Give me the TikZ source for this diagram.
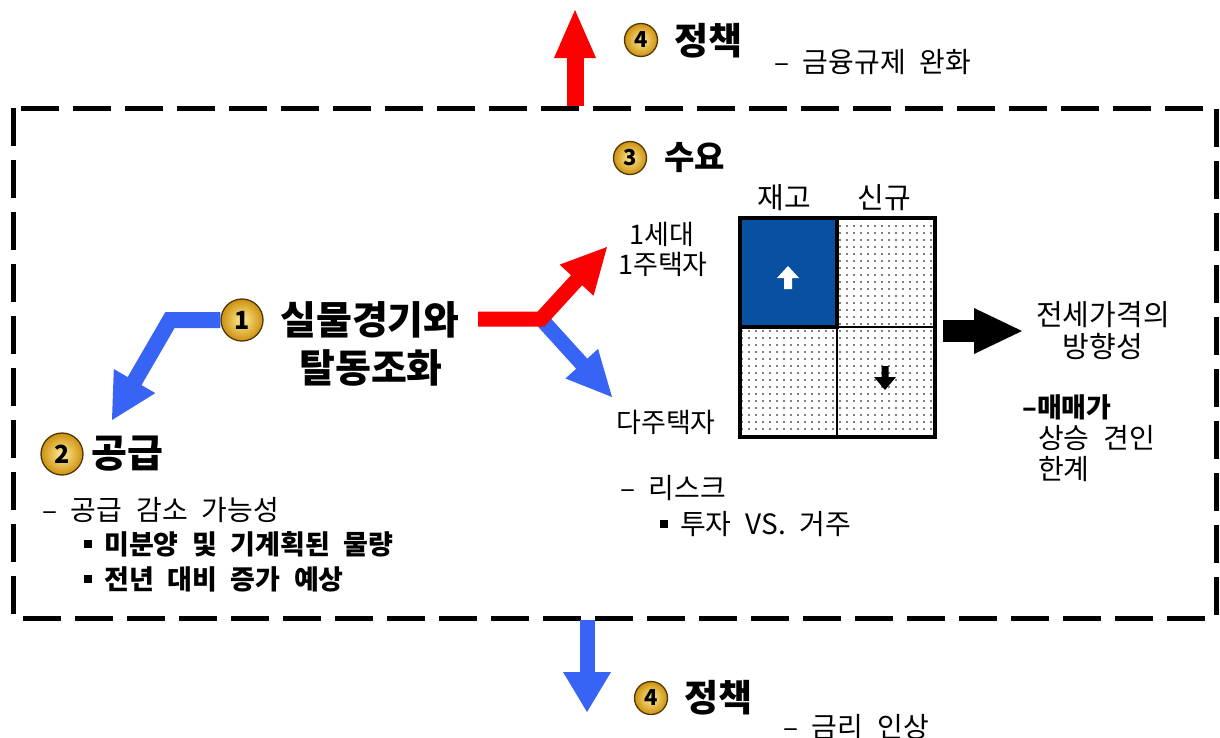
\documentclass[tikz,border=0pt]{standalone}
\usepackage{fontspec}
\newfontfamily\kr{Noto Sans CJK KR}[WordSpace=2.2]
\usetikzlibrary{calc,patterns.meta}
\definecolor{redA}{RGB}{250,0,0}
\definecolor{blueA}{RGB}{55,100,245}
\definecolor{navy}{RGB}{8,80,160}
\definecolor{goldL}{RGB}{255,236,150}
\definecolor{goldA}{RGB}{205,145,15}
\definecolor{goldD}{RGB}{80,55,5}
% block arrow head: colour, from, tip, length, half width
\newcommand{\tipfill}[5]{%
  \path ($(#3)!#4!(#2)$) coordinate (hb);
  \fill[#1] ($(hb)!#5!90:(#3)$) -- (#3) -- ($(hb)!#5!-90:(#3)$) -- cycle;}
\newcommand{\sqbullet}{\raisebox{6pt}{\rule{8pt}{8pt}}\hspace{12pt}}
\begin{document}
\begin{tikzpicture}[x=1pt,y=-1pt,
  num/.style={circle,draw=goldD,line width=1.3pt,inner color=goldL,outer color=goldA,
     inner sep=0pt,font=\kr\bfseries\fontsize{22}{22}\selectfont},
  bigtxt/.style={inner sep=0pt,font=\kr\bfseries\fontsize{39}{42}\selectfont},
  headtxt/.style={inner sep=0pt,anchor=west,font=\kr\bfseries\fontsize{37}{40}\selectfont},
  midtxt/.style={inner sep=0pt,font=\kr\fontsize{27}{30}\selectfont},
  smalltxt/.style={inner sep=0pt,anchor=west,font=\kr\fontsize{28}{32}\selectfont},
  dotcell/.style={pattern={Dots[distance=7pt,radius=0.8pt]},pattern color=black},
  shaft/.style={line width=#1,line join=miter,line cap=butt}
]
\useasboundingbox (0,0) rectangle (1220,737);
\fill[white] (0,0) rectangle (1220,737);

% dashed frame
\draw[line width=5pt,dash pattern=on 38pt off 14pt] (13,108) rectangle (1216,618);

% ---------- policy top ----------
\coordinate (rtS) at (575,106);
\coordinate (rtT) at (575,10);
\tipfill{redA}{rtS}{rtT}{48pt}{21pt}
\draw[shaft=17pt,redA] (rtS) -- ($(hb)!1pt!(rtT)$);
\node[num,minimum size=33pt] (c4a) at (641,40) {4};
\node[headtxt] (p4a) at (674,41) {정책};
\node[smalltxt] (p4aa) at (774,62) {– 금융규제 완화};

% ---------- policy bottom ----------
\coordinate (bbS) at (587,620);
\coordinate (bbT) at (587,712);
\tipfill{blueA}{bbS}{bbT}{40pt}{24pt}
\draw[shaft=15pt,blueA] (bbS) -- ($(hb)!1pt!(bbT)$);
\node[num,minimum size=33pt] (c4b) at (651,698) {4};
\node[headtxt] (p4b) at (684,698) {정책};
\node[smalltxt] (p4bb) at (783,727) {– 금리 인상};

% ---------- 1 ----------
\node[num,minimum size=42pt,font=\kr\bfseries\fontsize{25}{25}\selectfont] (c1) at (242,320) {1};
\node[bigtxt] (t1) at (370,320) {실물경기와};
\node[bigtxt] (t1b) at (371,368) {탈동조화};

% blue bent arrow to supply
\coordinate (bl1) at (170,320);
\coordinate (blT) at (112,420);
\tipfill{blueA}{bl1}{blT}{45pt}{24pt}
\draw[shaft=16pt,blueA] (c1.west) -- (bl1) -- ($(hb)!1pt!(blT)$);

% ---------- 2 ----------
\node[num,minimum size=42pt,font=\kr\bfseries\fontsize{25}{25}\selectfont] (c2) at (62,454) {2};
\node[headtxt,font=\kr\bfseries\fontsize{39}{42}\selectfont] (t2) at (91,454) {공급};
\node[smalltxt] (s1) at (42,510) {– 공급 감소 가능성};
\node[smalltxt,font=\kr\bfseries\fontsize{27}{32}\selectfont] (s2) at (84,544) {\sqbullet 미분양 및 기계획된 물량};
\node[smalltxt,font=\kr\bfseries\fontsize{27}{32}\selectfont] (s3) at (84,579) {\sqbullet 전년 대비 증가 예상};

% ---------- fork arrows ----------
\coordinate (fS) at (478,319);
\coordinate (fC) at (541,319);
\coordinate (fB) at (543,321);
\coordinate (fR) at (607,247);
\coordinate (fL) at (612,397);
\tipfill{blueA}{fB}{fL}{45pt}{22pt}
\draw[shaft=15pt,blueA] (fB) -- ($(hb)!1pt!(fL)$);
\tipfill{redA}{fC}{fR}{45pt}{23pt}
\draw[shaft=15pt,redA] (fS) -- (fC) -- ($(hb)!1pt!(fR)$);

% ---------- 3 ----------
\node[num,minimum size=33pt] (c3) at (630,158) {3};
\node[inner sep=0pt,anchor=west,font=\kr\bfseries\fontsize{33}{36}\selectfont] (t3) at (664,158) {수요};
\node[midtxt,font=\kr\fontsize{29}{32}\selectfont] (jg) at (784,198) {재고};
\node[midtxt,font=\kr\fontsize{29}{32}\selectfont] (sg) at (884,198) {신규};
\node[midtxt] (h1) at (662,234) {1세대};
\node[midtxt] (h2) at (663,264) {1주택자};
\node[midtxt] (h3) at (666,422) {다주택자};

% grid
\fill[white] (740,218) rectangle (935,437);
\fill[dotcell] (837,218) rectangle (935,327);
\fill[dotcell] (740,327) rectangle (837,437);
\fill[dotcell] (837,327) rectangle (935,437);
\draw[line width=1.5pt] (837,218) -- (837,437) (740,327) -- (935,327);
\draw[line width=4pt,fill=navy] (740,218) rectangle (837,327);
\draw[line width=3.5pt] (740,218) rectangle (935,437);
% white up arrow
\fill[white] (788,266) -- (799,278) -- (792,278) -- (792,289) -- (784,289) -- (784,278) -- (777,278) -- cycle;
% black down arrow
\fill[black] (885,390) -- (896,377) -- (888.5,377) -- (888.5,366) -- (881.5,366) -- (881.5,377) -- (874,377) -- cycle;

\node[smalltxt] (r1) at (620,488) {– 리스크};
\node[smalltxt] (r2) at (660,524) {\sqbullet 투자 VS. 거주};

% black arrow
\coordinate (kS) at (943,331);
\coordinate (kT) at (1022,331);
\tipfill{black}{kS}{kT}{48pt}{23pt}
\draw[shaft=22pt,black] (kS) -- ($(hb)!1pt!(kT)$);

\node[midtxt,font=\kr\fontsize{29}{32}\selectfont] (e1) at (1103,315) {전세가격의};
\node[midtxt,font=\kr\fontsize{29}{32}\selectfont] (e2) at (1103,347) {방향성};
\node[smalltxt,font=\kr\bfseries\fontsize{27}{30}\selectfont] (e3) at (1022,407) {–매매가};
\node[smalltxt] (e4) at (1038,438) {상승 견인};
\node[smalltxt] (e5) at (1038,469) {한계};
\end{tikzpicture}
\end{document}
